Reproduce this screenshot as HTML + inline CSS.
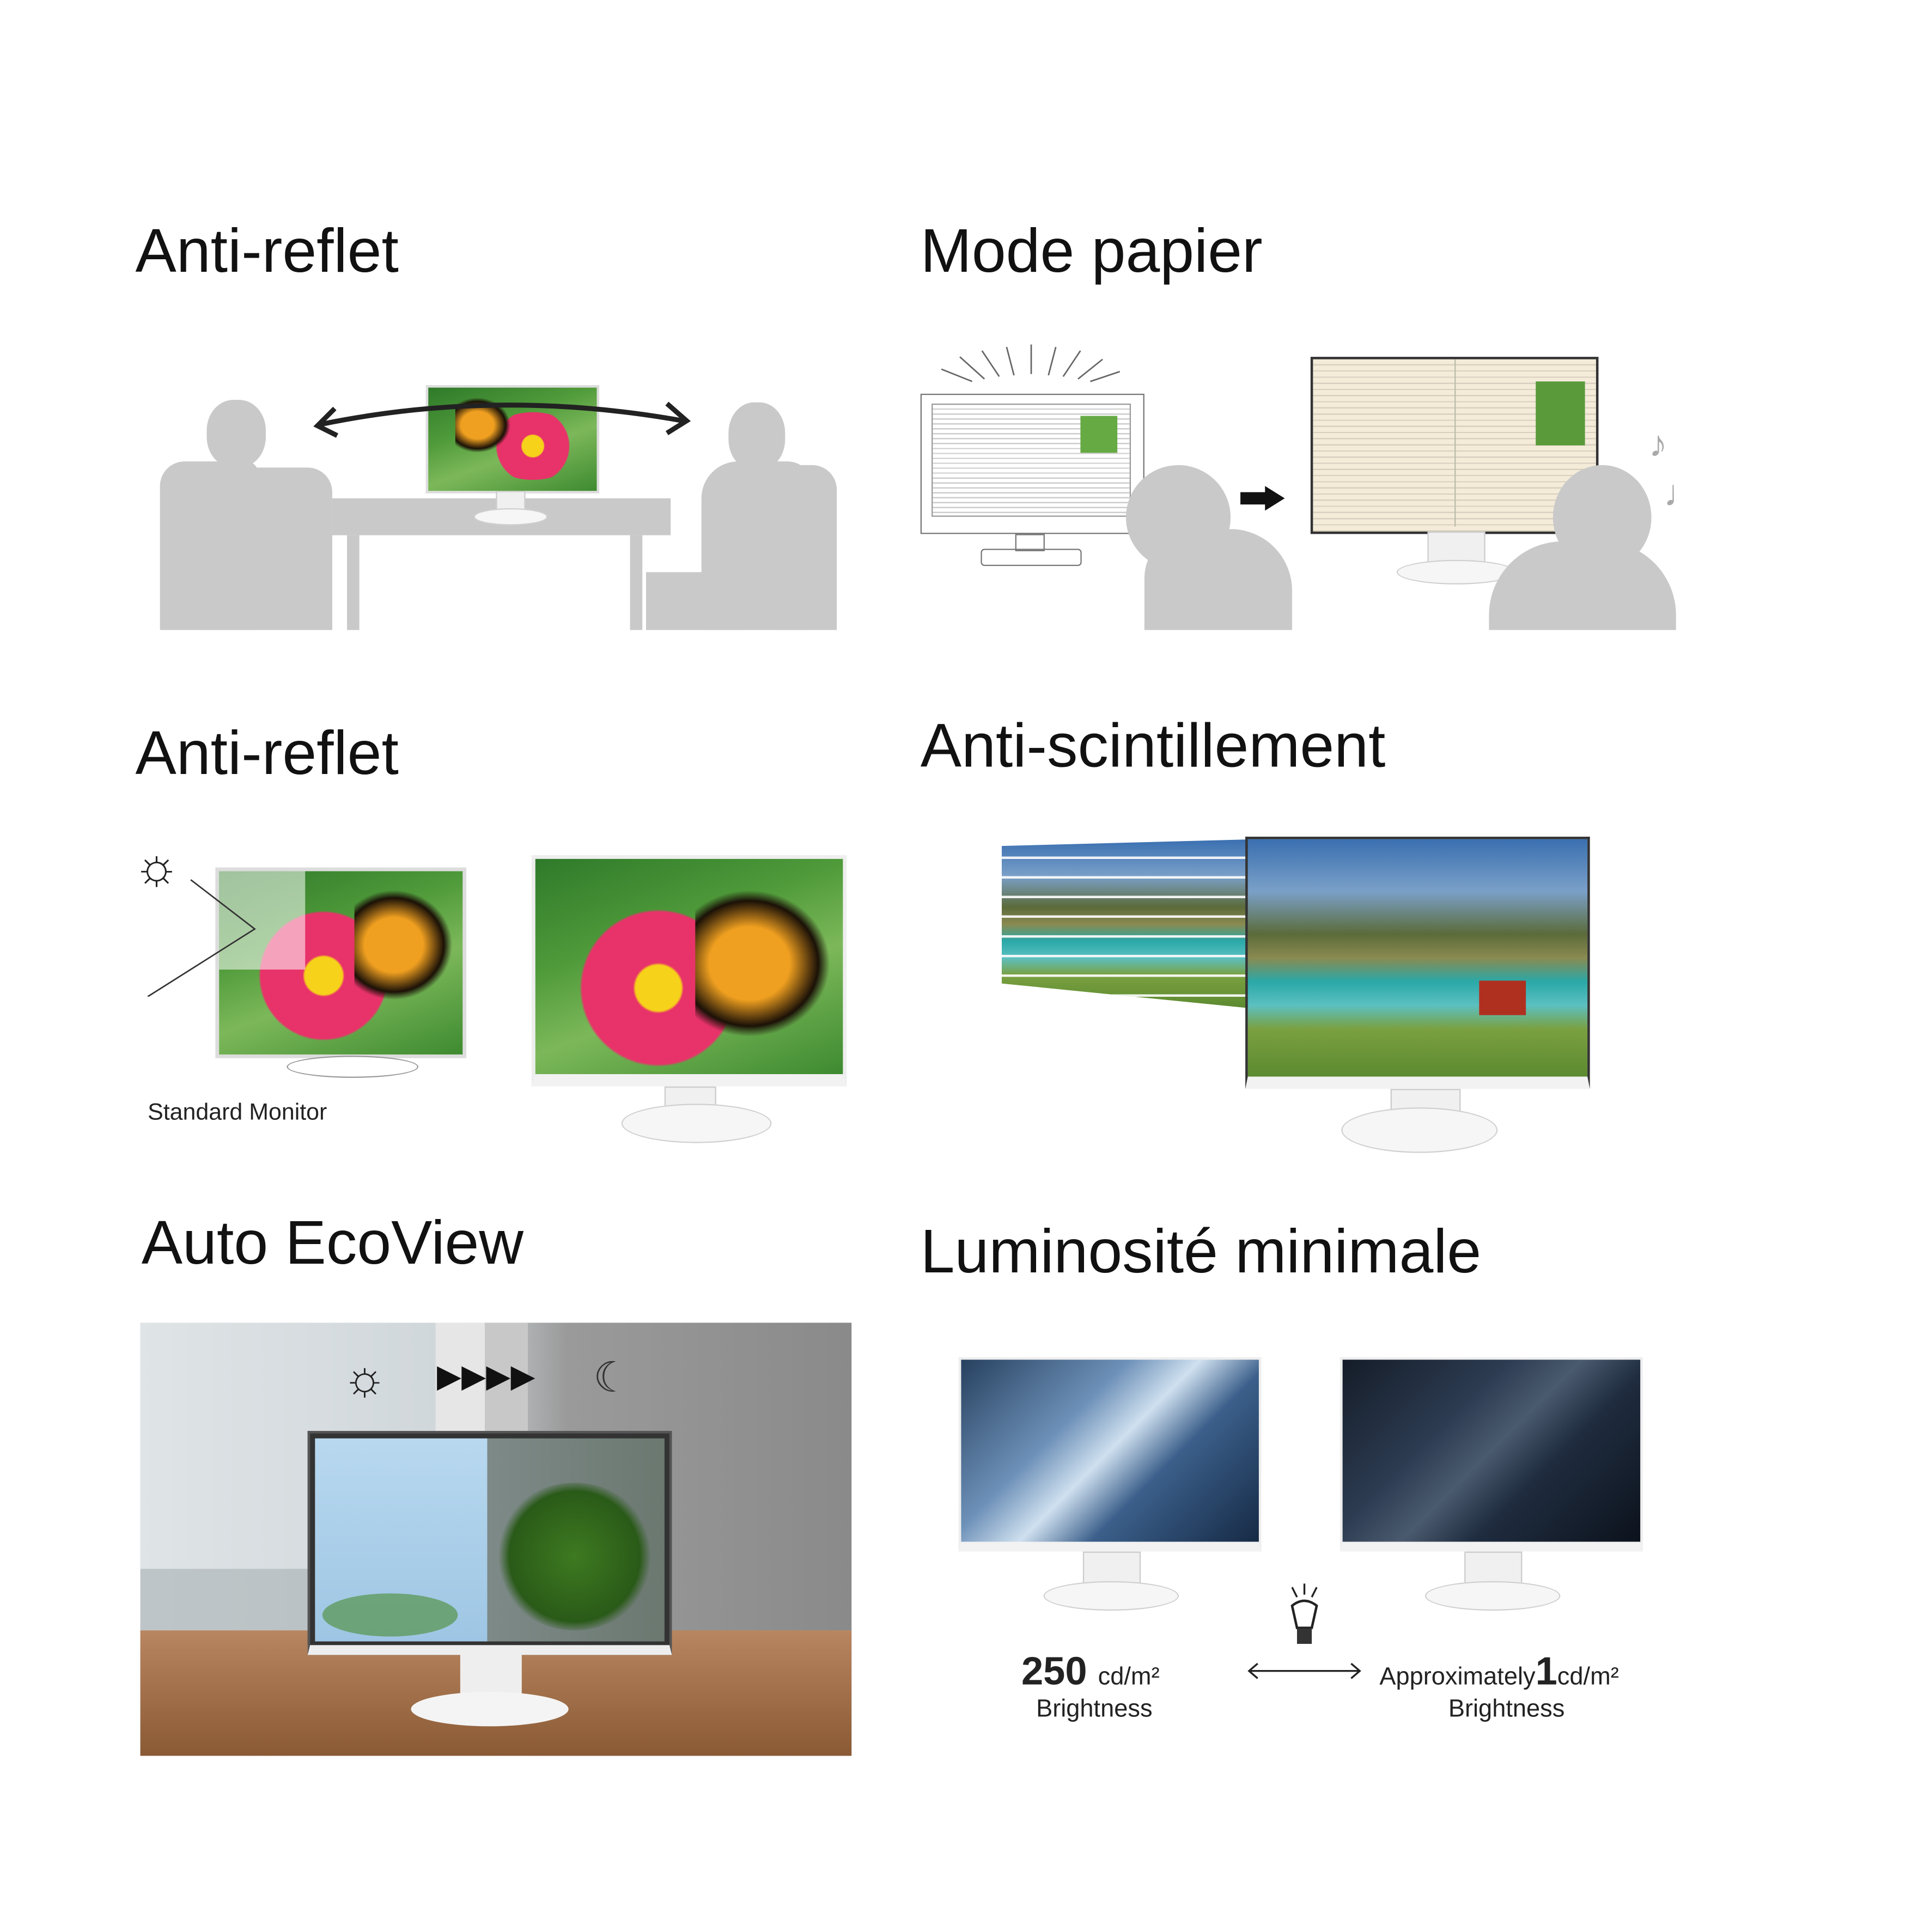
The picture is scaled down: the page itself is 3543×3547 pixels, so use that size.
<!DOCTYPE html>
<html><head><meta charset="utf-8">
<style>
html,body{margin:0;padding:0;background:#fff;}
body{width:3543px;height:3543px;overflow:hidden;position:relative;}
#s{position:absolute;left:0;top:0;width:1570px;height:1570px;transform:scale(2.259);transform-origin:0 0;font-family:"Liberation Sans",sans-serif;}
.a{position:absolute;}
.t{position:absolute;font-size:50px;color:#111;white-space:nowrap;line-height:1;}
.g{background:#c9c9c9;}
.photo{background:linear-gradient(160deg,#2f7a2a 0%,#4f9a3a 35%,#7cb85a 60%,#3e8a30 100%);overflow:hidden;}
.flower{position:absolute;border-radius:50%;background:radial-gradient(circle,#f6d21a 0 18%,#e8326a 20% 60%,rgba(230,60,110,0) 62%);}
.bfly{position:absolute;background:radial-gradient(ellipse at 40% 50%,#f0a020 0 35%,#1b1107 60%,rgba(0,0,0,0) 70%);}
.stand{position:absolute;background:#f0f0f0;border:1px solid #ccc;}
.base{position:absolute;background:#f6f6f6;border:1px solid #d0d0d0;border-radius:50%;}
.land{background:linear-gradient(180deg,#3a6fb0 0%,#7aa0c8 22%,#5b6b3a 40%,#8a8a50 50%,#2aa8a8 60%,#5cc0c0 70%,#7aa040 80%,#5c8a30 100%);}
.city{background:linear-gradient(135deg,#27415f 0%,#6d90b8 35%,#cfe0ef 50%,#3b5f8a 65%,#162a45 100%);}
.cityd{background:linear-gradient(135deg,#141c28 0%,#2d3c52 35%,#4a5a6e 50%,#1f2c3f 65%,#0c121c 100%);}
</style></head><body><div id="s">

<div class="t" style="left:110px;top:179px;">Anti-reflet</div>
<div class="t" style="left:748px;top:179px;">Mode papier</div>
<div class="t" style="left:110px;top:587px;">Anti-reflet</div>
<div class="t" style="left:748px;top:581px;">Anti-scintillement</div>
<div class="t" style="left:115px;top:985px;">Auto EcoView</div>
<div class="t" style="left:748px;top:992px;">Luminosité minimale</div>

<!-- Row1 left -->
<div class="a g" style="left:168px;top:325px;width:48px;height:55px;border-radius:45%;"></div>
<div class="a g" style="left:130px;top:375px;width:80px;height:137px;border-radius:20px 10px 0 0;"></div>
<div class="a g" style="left:160px;top:380px;width:110px;height:132px;border-radius:30px 20px 0 0;"></div>
<div class="a g" style="left:270px;top:405px;width:275px;height:30px;"></div>
<div class="a g" style="left:282px;top:435px;width:10px;height:77px;"></div>
<div class="a g" style="left:512px;top:435px;width:10px;height:77px;"></div>
<div class="a g" style="left:592px;top:327px;width:46px;height:55px;border-radius:45%;"></div>
<div class="a g" style="left:570px;top:375px;width:90px;height:137px;border-radius:30px 20px 0 0;"></div>
<div class="a g" style="left:630px;top:378px;width:50px;height:134px;border-radius:10px 20px 0 0;"></div>
<div class="a g" style="left:525px;top:465px;width:80px;height:47px;"></div>
<div class="a photo" style="left:346px;top:313px;width:137px;height:84px;border:2px solid #ddd;">
<div class="flower" style="left:45px;top:20px;width:80px;height:55px;"></div>
<div class="bfly" style="left:22px;top:8px;width:45px;height:45px;"></div></div>
<div class="stand" style="left:403px;top:399px;width:22px;height:18px;"></div>
<div class="base" style="left:385px;top:413px;width:58px;height:12px;"></div>
<svg class="a" style="left:250px;top:320px;" width="320" height="50"><path d="M10 25 Q155 -5 305 22" stroke="#222" stroke-width="4" fill="none"/><path d="M22 12 L8 26 L24 34" stroke="#222" stroke-width="4" fill="none"/><path d="M292 8 L308 22 L292 32" stroke="#222" stroke-width="4" fill="none"/></svg>

<!-- Row1 right -->
<svg class="a" style="left:760px;top:280px;" width="160" height="40" stroke="#666" stroke-width="1.2"><line x1="5" y1="20" x2="30" y2="30"/><line x1="20" y1="10" x2="40" y2="28"/><line x1="38" y1="5" x2="52" y2="26"/><line x1="58" y1="2" x2="64" y2="25"/><line x1="78" y1="0" x2="78" y2="24"/><line x1="98" y1="2" x2="92" y2="25"/><line x1="118" y1="5" x2="104" y2="26"/><line x1="136" y1="12" x2="116" y2="28"/><line x1="150" y1="22" x2="126" y2="30"/></svg>
<div class="a" style="left:748px;top:320px;width:180px;height:112px;border:1.5px solid #777;background:#fff;"></div>
<div class="a" style="left:757px;top:328px;width:160px;height:90px;border:1px solid #999;background:repeating-linear-gradient(180deg,#fff 0 3px,#ccc 3px 4px);"></div>
<div class="a" style="left:878px;top:338px;width:30px;height:30px;background:#6a4;"></div>
<div class="a" style="left:825px;top:434px;width:22px;height:12px;border:1px solid #777;"></div>
<div class="a" style="left:797px;top:446px;width:80px;height:12px;border:1.5px solid #777;border-radius:3px;"></div>
<div class="a g" style="left:915px;top:378px;width:85px;height:85px;border-radius:50%;"></div>
<div class="a g" style="left:930px;top:430px;width:120px;height:82px;border-radius:40px 50px 0 0;"></div>
<div class="a" style="left:1008px;top:400px;width:22px;height:10px;background:#111;"></div>
<div class="a" style="left:1028px;top:395px;width:0;height:0;border-left:16px solid #111;border-top:10px solid transparent;border-bottom:10px solid transparent;"></div>
<div class="a" style="left:1065px;top:290px;width:230px;height:140px;border:2px solid #333;background:repeating-linear-gradient(180deg,#f4ebd9 0 4px,#d8cfbf 4px 5px);"></div>
<div class="a" style="left:1182px;top:292px;width:1px;height:136px;background:#bba;"></div>
<div class="a" style="left:1248px;top:310px;width:40px;height:52px;background:#5a9a3a;"></div>
<div class="stand" style="left:1160px;top:432px;width:45px;height:30px;"></div>
<div class="base" style="left:1135px;top:455px;width:95px;height:18px;"></div>
<div class="a g" style="left:1262px;top:378px;width:80px;height:85px;border-radius:50%;"></div>
<div class="a g" style="left:1210px;top:440px;width:152px;height:72px;border-radius:60px 60px 0 0;"></div>
<div class="a" style="left:1340px;top:345px;font-size:30px;color:#aaa;">♪</div>
<div class="a" style="left:1352px;top:385px;font-size:30px;color:#aaa;">♩</div>

<!-- Row2 left -->
<div class="a" style="left:108px;top:680px;font-size:42px;color:#222;">☼</div>
<div class="a photo" style="left:175px;top:705px;width:204px;height:155px;border:3px solid #ddd;box-sizing:border-box;">
<div class="flower" style="left:20px;top:30px;width:130px;height:110px;"></div>
<div class="bfly" style="left:110px;top:15px;width:80px;height:90px;"></div>
<div class="a" style="left:0;top:0;width:70px;height:80px;background:rgba(255,255,255,.55);"></div></div>
<svg class="a" style="left:115px;top:710px;" width="100" height="100"><path d="M40 5 L92 45 L5 100" stroke="#333" stroke-width="1.2" fill="none"/></svg>
<div class="stand" style="left:265px;top:860px;width:40px;height:8px;"></div>
<div class="base" style="left:233px;top:858px;width:105px;height:16px;background:#fff;border-color:#999;"></div>
<div class="a" style="left:120px;top:894px;font-size:19px;color:#222;">Standard Monitor</div>
<div class="a photo" style="left:432px;top:695px;width:256px;height:188px;border:3px solid #eee;border-bottom:10px solid #f2f2f2;box-sizing:border-box;">
<div class="flower" style="left:20px;top:40px;width:160px;height:130px;"></div>
<div class="bfly" style="left:130px;top:25px;width:110px;height:120px;"></div></div>
<div class="stand" style="left:540px;top:883px;width:40px;height:28px;"></div>
<div class="base" style="left:505px;top:897px;width:120px;height:30px;"></div>

<!-- Row2 right -->
<div class="a land" style="left:814px;top:682px;width:208px;height:138px;clip-path:polygon(0 4%,100% 0,100% 100%,0 85%);">
<div class="a" style="left:0;top:0;width:100%;height:100%;background:repeating-linear-gradient(180deg,rgba(255,255,255,0) 0 14px,rgba(255,255,255,.9) 14px 16px);"></div></div>
<div class="a land" style="left:1012px;top:680px;width:280px;height:205px;border:2px solid #333;border-bottom:10px solid #f2f2f2;box-sizing:border-box;">
<div class="a" style="left:188px;top:115px;width:38px;height:28px;background:#b03020;"></div></div>
<div class="stand" style="left:1130px;top:885px;width:55px;height:35px;"></div>
<div class="base" style="left:1090px;top:900px;width:125px;height:35px;"></div>

<!-- Row3 left -->
<div class="a" style="left:114px;top:1075px;width:578px;height:352px;background:linear-gradient(90deg,#dfe4e6 0%,#cfd6da 45%,#9a9a9a 60%,#8a8a8a 100%);overflow:hidden;">
<div class="a" style="left:0;top:250px;width:578px;height:102px;background:linear-gradient(180deg,#b88660,#8a5a35);"></div>
<div class="a" style="left:0;top:200px;width:140px;height:50px;background:#a8b0b4;opacity:.6;"></div>
<div class="a" style="left:240px;top:0;width:40px;height:90px;background:#e6e6e6;"></div>
<div class="a" style="left:280px;top:0;width:35px;height:90px;background:#c8c8c8;"></div>
<div class="a" style="left:136px;top:88px;width:296px;height:182px;background:#333;border:2px solid #555;border-bottom:8px solid #eee;box-sizing:border-box;">
<div class="a" style="left:4px;top:4px;width:140px;height:165px;background:linear-gradient(180deg,#b8d8ef,#9ec6e4);"></div>
<div class="a" style="left:144px;top:4px;width:144px;height:165px;background:linear-gradient(90deg,#7d8a88,#6b7870);"></div>
<div class="a" style="left:150px;top:40px;width:130px;height:120px;border-radius:50%;background:radial-gradient(circle,#3d7a20,#2a5a18 60%,rgba(0,0,0,0) 70%);"></div>
<div class="a" style="left:10px;top:130px;width:110px;height:35px;border-radius:50%;background:#4a8a30;opacity:.6;"></div></div>
<div class="a" style="left:260px;top:268px;width:50px;height:40px;background:#eee;"></div>
<div class="a" style="left:220px;top:300px;width:128px;height:28px;border-radius:50%;background:#f4f4f4;"></div>
</div>
<div class="a" style="left:278px;top:1098px;font-size:40px;color:#222;">☼</div>
<div class="a" style="left:355px;top:1103px;font-size:26px;color:#111;letter-spacing:0px;">▶▶▶▶</div>
<div class="a" style="left:482px;top:1100px;font-size:34px;color:#333;">☾</div>

<!-- Row3 right -->
<div class="a city" style="left:779px;top:1103px;width:246px;height:158px;border:2px solid #eee;border-bottom:8px solid #f2f2f2;box-sizing:border-box;"></div>
<div class="stand" style="left:880px;top:1261px;width:45px;height:30px;"></div>
<div class="base" style="left:848px;top:1285px;width:108px;height:22px;"></div>
<div class="a cityd" style="left:1089px;top:1103px;width:246px;height:158px;border:2px solid #eee;border-bottom:8px solid #f2f2f2;box-sizing:border-box;"></div>
<div class="stand" style="left:1190px;top:1261px;width:45px;height:30px;"></div>
<div class="base" style="left:1158px;top:1285px;width:108px;height:22px;"></div>
<svg class="a" style="left:1040px;top:1285px;" width="40" height="60"><path d="M10 5 l4 8 M20 2 v9 M30 5 l-4 8" stroke="#222" stroke-width="1.5"/><path d="M10 20 Q20 12 30 20 L26 38 L14 38 Z" fill="#fff" stroke="#222" stroke-width="2"/><rect x="14" y="39" width="12" height="12" fill="#333"/></svg>
<div class="a" style="left:830px;top:1340px;font-size:32px;font-weight:bold;color:#222;">250 <span style="font-size:20px;font-weight:normal;">cd/m²</span></div>
<div class="a" style="left:842px;top:1378px;font-size:20px;color:#222;">Brightness</div>
<svg class="a" style="left:1012px;top:1350px;" width="96" height="16"><path d="M3 8 H93 M10 2 L3 8 L10 14 M86 2 L93 8 L86 14" stroke="#222" stroke-width="1.5" fill="none"/></svg>
<div class="a" style="left:1121px;top:1340px;font-size:20px;color:#222;white-space:nowrap;">Approximately<span style="font-size:32px;font-weight:bold;">1</span>cd/m²</div>
<div class="a" style="left:1177px;top:1378px;font-size:20px;color:#222;">Brightness</div>

</div></body></html>
